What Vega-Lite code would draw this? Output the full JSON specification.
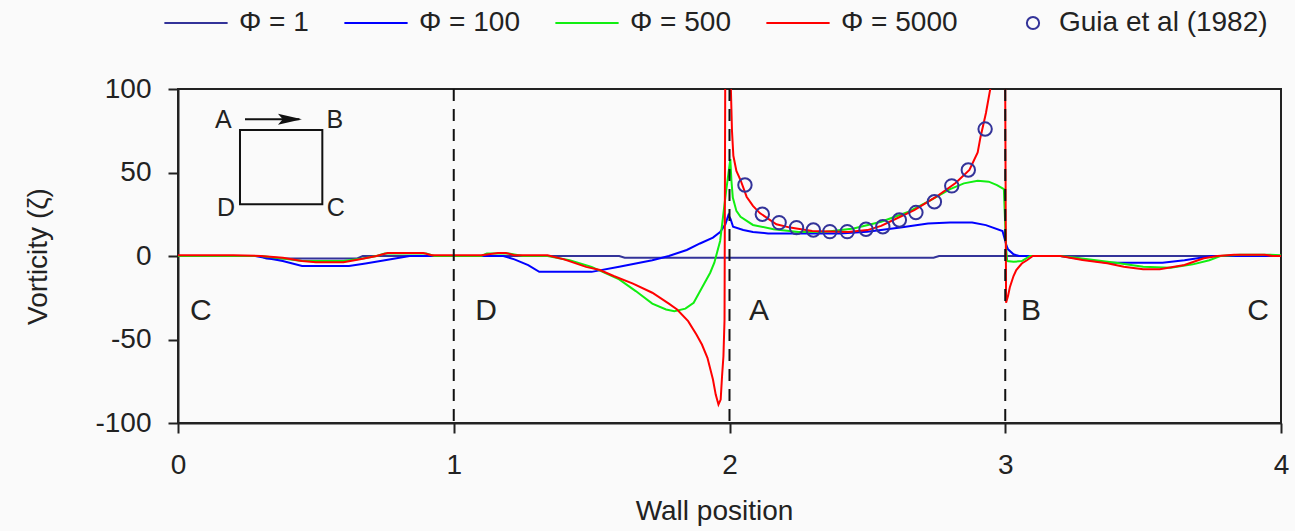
{
  "$schema": "https://vega.github.io/schema/vega-lite/v6.json",
  "width": 1103,
  "height": 334,
  "autosize": {"type": "none"},
  "padding": {"left": 178, "top": 89, "right": 14, "bottom": 108},
  "background": "#fafafa",
  "config": {
    "font": "Liberation Sans",
    "view": {"stroke": "#222", "strokeWidth": 2},
    "axis": {"grid": false, "labelFontSize": 28, "labelColor": "#222", "titleFontSize": 28, "titleFontWeight": "normal", "titleColor": "#222", "tickSize": 10, "tickWidth": 2, "tickColor": "#222", "domainColor": "#222", "domainWidth": 2, "labelFlush": false}
  },
  "datasets": {
    "curves": [
      {"s":"Φ = 1","x":0,"y":0},{"s":"Φ = 1","x":0.3,"y":0},{"s":"Φ = 1","x":0.32,"y":-1.5},{"s":"Φ = 1","x":0.65,"y":-1.5},{"s":"Φ = 1","x":0.67,"y":0},{"s":"Φ = 1","x":1.6,"y":0},{"s":"Φ = 1","x":1.62,"y":-1},{"s":"Φ = 1","x":2.74,"y":-1},{"s":"Φ = 1","x":2.76,"y":0},{"s":"Φ = 1","x":4,"y":0},
      {"s":"Φ = 100","x":0,"y":0},{"s":"Φ = 100","x":0.28,"y":0},{"s":"Φ = 100","x":0.33,"y":-1.5},{"s":"Φ = 100","x":0.38,"y":-3},{"s":"Φ = 100","x":0.45,"y":-6},{"s":"Φ = 100","x":0.62,"y":-6},{"s":"Φ = 100","x":0.68,"y":-4.5},{"s":"Φ = 100","x":0.75,"y":-2.5},{"s":"Φ = 100","x":0.84,"y":0},{"s":"Φ = 100","x":1.18,"y":0},{"s":"Φ = 100","x":1.22,"y":-2},{"s":"Φ = 100","x":1.27,"y":-5.5},{"s":"Φ = 100","x":1.31,"y":-9.5},{"s":"Φ = 100","x":1.5,"y":-9.5},{"s":"Φ = 100","x":1.6,"y":-6.5},{"s":"Φ = 100","x":1.72,"y":-2.5},{"s":"Φ = 100","x":1.78,"y":0},{"s":"Φ = 100","x":1.845,"y":3.6},{"s":"Φ = 100","x":1.893,"y":7.5},{"s":"Φ = 100","x":1.94,"y":11},{"s":"Φ = 100","x":1.966,"y":14.4},{"s":"Φ = 100","x":1.985,"y":19},{"s":"Φ = 100","x":1.996,"y":24.5},{"s":"Φ = 100","x":2.004,"y":22},{"s":"Φ = 100","x":2.013,"y":17.5},{"s":"Φ = 100","x":2.05,"y":15.6},{"s":"Φ = 100","x":2.085,"y":14.4},{"s":"Φ = 100","x":2.14,"y":13.5},{"s":"Φ = 100","x":2.4,"y":13.5},{"s":"Φ = 100","x":2.5,"y":14.5},{"s":"Φ = 100","x":2.62,"y":17},{"s":"Φ = 100","x":2.72,"y":19.5},{"s":"Φ = 100","x":2.8,"y":20},{"s":"Φ = 100","x":2.88,"y":20},{"s":"Φ = 100","x":2.93,"y":18.5},{"s":"Φ = 100","x":2.99,"y":15},{"s":"Φ = 100","x":3.005,"y":6},{"s":"Φ = 100","x":3.01,"y":4},{"s":"Φ = 100","x":3.03,"y":1},{"s":"Φ = 100","x":3.05,"y":0},{"s":"Φ = 100","x":3.2,"y":0},{"s":"Φ = 100","x":3.28,"y":-2},{"s":"Φ = 100","x":3.37,"y":-4},{"s":"Φ = 100","x":3.57,"y":-4},{"s":"Φ = 100","x":3.65,"y":-2.5},{"s":"Φ = 100","x":3.75,"y":0},{"s":"Φ = 100","x":4,"y":0},
      {"s":"Φ = 500","x":0,"y":0},{"s":"Φ = 500","x":0.3,"y":0},{"s":"Φ = 500","x":0.38,"y":-1.5},{"s":"Φ = 500","x":0.45,"y":-3},{"s":"Φ = 500","x":0.6,"y":-3},{"s":"Φ = 500","x":0.67,"y":-1.5},{"s":"Φ = 500","x":0.72,"y":0},{"s":"Φ = 500","x":0.75,"y":1.5},{"s":"Φ = 500","x":0.9,"y":1.5},{"s":"Φ = 500","x":0.93,"y":0},{"s":"Φ = 500","x":1.1,"y":0},{"s":"Φ = 500","x":1.12,"y":1.5},{"s":"Φ = 500","x":1.2,"y":1.5},{"s":"Φ = 500","x":1.25,"y":0},{"s":"Φ = 500","x":1.34,"y":0},{"s":"Φ = 500","x":1.42,"y":-2.5},{"s":"Φ = 500","x":1.5,"y":-6.5},{"s":"Φ = 500","x":1.6,"y":-14},{"s":"Φ = 500","x":1.66,"y":-21},{"s":"Φ = 500","x":1.72,"y":-28.5},{"s":"Φ = 500","x":1.77,"y":-32},{"s":"Φ = 500","x":1.8,"y":-33},{"s":"Φ = 500","x":1.84,"y":-31.5},{"s":"Φ = 500","x":1.87,"y":-28},{"s":"Φ = 500","x":1.89,"y":-22},{"s":"Φ = 500","x":1.91,"y":-16},{"s":"Φ = 500","x":1.93,"y":-10},{"s":"Φ = 500","x":1.945,"y":-4},{"s":"Φ = 500","x":1.966,"y":9},{"s":"Φ = 500","x":1.987,"y":38},{"s":"Φ = 500","x":2.003,"y":58},{"s":"Φ = 500","x":2.007,"y":45},{"s":"Φ = 500","x":2.012,"y":35},{"s":"Φ = 500","x":2.025,"y":27},{"s":"Φ = 500","x":2.04,"y":23.5},{"s":"Φ = 500","x":2.085,"y":18.6},{"s":"Φ = 500","x":2.16,"y":16},{"s":"Φ = 500","x":2.25,"y":14.4},{"s":"Φ = 500","x":2.35,"y":14.5},{"s":"Φ = 500","x":2.45,"y":16.5},{"s":"Φ = 500","x":2.55,"y":20.5},{"s":"Φ = 500","x":2.65,"y":26.5},{"s":"Φ = 500","x":2.73,"y":33.5},{"s":"Φ = 500","x":2.8,"y":40},{"s":"Φ = 500","x":2.85,"y":43.5},{"s":"Φ = 500","x":2.9,"y":45},{"s":"Φ = 500","x":2.94,"y":44.5},{"s":"Φ = 500","x":2.97,"y":42.5},{"s":"Φ = 500","x":2.995,"y":40},{"s":"Φ = 500","x":3.003,"y":5},{"s":"Φ = 500","x":3.007,"y":-3},{"s":"Φ = 500","x":3.03,"y":-3.5},{"s":"Φ = 500","x":3.06,"y":-3},{"s":"Φ = 500","x":3.09,"y":0},{"s":"Φ = 500","x":3.2,"y":0},{"s":"Φ = 500","x":3.3,"y":-2},{"s":"Φ = 500","x":3.4,"y":-4},{"s":"Φ = 500","x":3.5,"y":-6.5},{"s":"Φ = 500","x":3.6,"y":-7},{"s":"Φ = 500","x":3.68,"y":-5},{"s":"Φ = 500","x":3.74,"y":-2.5},{"s":"Φ = 500","x":3.78,"y":0},{"s":"Φ = 500","x":3.85,"y":0.8},{"s":"Φ = 500","x":3.95,"y":0.8},{"s":"Φ = 500","x":4,"y":0.5},
      {"s":"Φ = 5000","x":0,"y":0.5},{"s":"Φ = 5000","x":0.2,"y":0.5},{"s":"Φ = 5000","x":0.3,"y":0},{"s":"Φ = 5000","x":0.38,"y":-1},{"s":"Φ = 5000","x":0.45,"y":-3},{"s":"Φ = 5000","x":0.5,"y":-3.8},{"s":"Φ = 5000","x":0.6,"y":-3.8},{"s":"Φ = 5000","x":0.66,"y":-2},{"s":"Φ = 5000","x":0.72,"y":0},{"s":"Φ = 5000","x":0.76,"y":1.8},{"s":"Φ = 5000","x":0.89,"y":1.8},{"s":"Φ = 5000","x":0.92,"y":0.5},{"s":"Φ = 5000","x":1.1,"y":0.5},{"s":"Φ = 5000","x":1.16,"y":1.8},{"s":"Φ = 5000","x":1.19,"y":1.8},{"s":"Φ = 5000","x":1.22,"y":0.5},{"s":"Φ = 5000","x":1.34,"y":0.5},{"s":"Φ = 5000","x":1.4,"y":-2},{"s":"Φ = 5000","x":1.48,"y":-6.5},{"s":"Φ = 5000","x":1.53,"y":-8.4},{"s":"Φ = 5000","x":1.58,"y":-12},{"s":"Φ = 5000","x":1.65,"y":-16.5},{"s":"Φ = 5000","x":1.72,"y":-22},{"s":"Φ = 5000","x":1.78,"y":-28.5},{"s":"Φ = 5000","x":1.81,"y":-32},{"s":"Φ = 5000","x":1.85,"y":-39},{"s":"Φ = 5000","x":1.88,"y":-47},{"s":"Φ = 5000","x":1.9,"y":-53},{"s":"Φ = 5000","x":1.92,"y":-61},{"s":"Φ = 5000","x":1.94,"y":-74},{"s":"Φ = 5000","x":1.95,"y":-83},{"s":"Φ = 5000","x":1.96,"y":-89},{"s":"Φ = 5000","x":1.968,"y":-86},{"s":"Φ = 5000","x":1.973,"y":-72},{"s":"Φ = 5000","x":1.978,"y":-60},{"s":"Φ = 5000","x":1.982,"y":-38},{"s":"Φ = 5000","x":1.988,"y":300},{"s":"Φ = 5000","x":2.002,"y":300},{"s":"Φ = 5000","x":2.005,"y":100},{"s":"Φ = 5000","x":2.009,"y":75},{"s":"Φ = 5000","x":2.014,"y":60},{"s":"Φ = 5000","x":2.025,"y":51},{"s":"Φ = 5000","x":2.04,"y":45.5},{"s":"Φ = 5000","x":2.062,"y":35.5},{"s":"Φ = 5000","x":2.085,"y":30},{"s":"Φ = 5000","x":2.11,"y":25.7},{"s":"Φ = 5000","x":2.17,"y":19},{"s":"Φ = 5000","x":2.22,"y":17},{"s":"Φ = 5000","x":2.3,"y":15},{"s":"Φ = 5000","x":2.43,"y":14.4},{"s":"Φ = 5000","x":2.5,"y":15.5},{"s":"Φ = 5000","x":2.55,"y":18},{"s":"Φ = 5000","x":2.6,"y":22},{"s":"Φ = 5000","x":2.67,"y":27.5},{"s":"Φ = 5000","x":2.75,"y":35.5},{"s":"Φ = 5000","x":2.82,"y":43.7},{"s":"Φ = 5000","x":2.87,"y":51.5},{"s":"Φ = 5000","x":2.9,"y":62},{"s":"Φ = 5000","x":2.91,"y":71},{"s":"Φ = 5000","x":2.93,"y":85.6},{"s":"Φ = 5000","x":2.95,"y":104},{"s":"Φ = 5000","x":2.96,"y":140},{"s":"Φ = 5000","x":2.975,"y":300},{"s":"Φ = 5000","x":2.995,"y":300},{"s":"Φ = 5000","x":3.003,"y":-28},{"s":"Φ = 5000","x":3.01,"y":-24},{"s":"Φ = 5000","x":3.017,"y":-18.5},{"s":"Φ = 5000","x":3.03,"y":-12},{"s":"Φ = 5000","x":3.04,"y":-8.4},{"s":"Φ = 5000","x":3.06,"y":-4.5},{"s":"Φ = 5000","x":3.08,"y":-2.4},{"s":"Φ = 5000","x":3.1,"y":0},{"s":"Φ = 5000","x":3.2,"y":0},{"s":"Φ = 5000","x":3.28,"y":-2.4},{"s":"Φ = 5000","x":3.37,"y":-4.4},{"s":"Φ = 5000","x":3.43,"y":-6.4},{"s":"Φ = 5000","x":3.5,"y":-8},{"s":"Φ = 5000","x":3.56,"y":-8},{"s":"Φ = 5000","x":3.65,"y":-5.4},{"s":"Φ = 5000","x":3.72,"y":-1.4},{"s":"Φ = 5000","x":3.77,"y":0},{"s":"Φ = 5000","x":3.83,"y":0.8},{"s":"Φ = 5000","x":3.94,"y":0.8},{"s":"Φ = 5000","x":3.97,"y":0},{"s":"Φ = 5000","x":4,"y":0}
    ],
    "guia": [
      {"src":"Guia et al (1982)","x":2.056,"y":42.5},{"src":"Guia et al (1982)","x":2.119,"y":25},{"src":"Guia et al (1982)","x":2.18,"y":20},{"src":"Guia et al (1982)","x":2.243,"y":17},{"src":"Guia et al (1982)","x":2.304,"y":15.6},{"src":"Guia et al (1982)","x":2.364,"y":14.6},{"src":"Guia et al (1982)","x":2.427,"y":14.6},{"src":"Guia et al (1982)","x":2.495,"y":16},{"src":"Guia et al (1982)","x":2.556,"y":17.5},{"src":"Guia et al (1982)","x":2.616,"y":21.6},{"src":"Guia et al (1982)","x":2.676,"y":26},{"src":"Guia et al (1982)","x":2.743,"y":32.5},{"src":"Guia et al (1982)","x":2.806,"y":42},{"src":"Guia et al (1982)","x":2.866,"y":51.5},{"src":"Guia et al (1982)","x":2.927,"y":76}
    ],
    "walls": [{"x":1},{"x":2},{"x":3}],
    "corners": [
      {"t":"C","x":0.083,"y":-33},{"t":"D","x":1.117,"y":-33},{"t":"A","x":2.107,"y":-33},{"t":"B","x":3.093,"y":-33},{"t":"C","x":3.917,"y":-33}
    ],
    "insetLabels": [
      {"t":"A","x":0.164,"y":81.4},{"t":"B","x":0.569,"y":81.4},{"t":"D","x":0.174,"y":28.9},{"t":"C","x":0.572,"y":28.5}
    ],
    "box": [{"x":0.2248,"x2":0.5234,"y":75.4,"y2":31.0}],
    "arrow": [{"x":0.243,"x2":0.44,"y":81.9}],
    "head": [{"x":0.406,"y":81.9}]
  },
  "layer": [
    {
      "data": {"name": "curves"},
      "mark": {"type": "line", "strokeWidth": 2, "clip": true},
      "encoding": {
        "x": {"field": "x", "type": "quantitative", "scale": {"domain": [0, 4], "nice": false, "zero": false},
              "axis": {"values": [0, 1, 2, 3, 4], "format": "d", "labelPadding": 18, "title": "Wall position", "titlePadding": 18, "titleX": 536}},
        "y": {"field": "y", "type": "quantitative", "scale": {"domain": [-100, 100], "nice": false},
              "axis": {"values": [-100, -50, 0, 50, 100], "labelExpr": "toString(datum.value)", "labelPadding": 17, "title": "Vorticity (ζ)", "titlePadding": 42}},
        "color": {"field": "s", "type": "nominal",
                  "scale": {"domain": ["Φ = 1", "Φ = 100", "Φ = 500", "Φ = 5000"], "range": ["#333399", "#0000ff", "#11ee11", "#ff0000"]},
                  "legend": {"orient": "none", "legendX": -15, "legendY": -99, "direction": "horizontal", "columns": 4, "title": null,
                             "symbolType": "stroke", "symbolSize": 4000, "symbolStrokeWidth": 2, "labelFontSize": 28, "labelColor": "#222",
                             "labelOffset": 10, "columnPadding": 31}}
      }
    },
    {
      "data": {"name": "guia"},
      "mark": {"type": "point", "filled": false, "color": "#333399", "strokeWidth": 2, "size": 180, "opacity": 1},
      "encoding": {
        "x": {"field": "x", "type": "quantitative"},
        "y": {"field": "y", "type": "quantitative"},
        "shape": {"field": "src", "type": "nominal", "scale": {"range": ["circle"]},
                  "legend": {"orient": "none", "legendX": 841, "legendY": -80, "title": null, "symbolSize": 150,
                             "symbolStrokeColor": "#333399", "symbolFillColor": "transparent", "symbolStrokeWidth": 2,
                             "labelFontSize": 28, "labelColor": "#222", "labelOffset": 12, "labelLimit": 400}}
      }
    },
    {
      "data": {"name": "walls"},
      "mark": {"type": "rule", "color": "#111", "strokeWidth": 2, "strokeDash": [12, 8]},
      "encoding": {"x": {"field": "x", "type": "quantitative"}}
    },
    {
      "data": {"name": "corners"},
      "mark": {"type": "text", "fontSize": 30, "color": "#222", "baseline": "middle", "align": "center"},
      "encoding": {"x": {"field": "x", "type": "quantitative"}, "y": {"field": "y", "type": "quantitative"}, "text": {"field": "t"}}
    },
    {
      "data": {"name": "insetLabels"},
      "mark": {"type": "text", "fontSize": 25, "color": "#222", "baseline": "middle", "align": "center"},
      "encoding": {"x": {"field": "x", "type": "quantitative"}, "y": {"field": "y", "type": "quantitative"}, "text": {"field": "t"}}
    },
    {
      "data": {"name": "box"},
      "mark": {"type": "rect", "fill": "transparent", "stroke": "#111", "strokeWidth": 2},
      "encoding": {"x": {"field": "x", "type": "quantitative"}, "x2": {"field": "x2"}, "y": {"field": "y", "type": "quantitative"}, "y2": {"field": "y2"}}
    },
    {
      "data": {"name": "arrow"},
      "mark": {"type": "rule", "color": "#111", "strokeWidth": 2},
      "encoding": {"x": {"field": "x", "type": "quantitative"}, "x2": {"field": "x2"}, "y": {"field": "y", "type": "quantitative"}}
    },
    {
      "data": {"name": "head"},
      "mark": {"type": "point", "filled": true, "color": "#111", "opacity": 1, "size": 576, "shape": "M-1,-0.45L1,0L-1,0.45L-0.6,0Z"},
      "encoding": {"x": {"field": "x", "type": "quantitative"}, "y": {"field": "y", "type": "quantitative"}}
    }
  ]
}
